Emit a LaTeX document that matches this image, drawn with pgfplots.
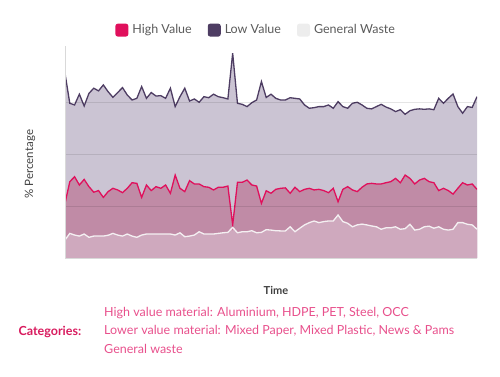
\documentclass[border=0pt]{standalone}
\usepackage{pgfplots}
\usepackage{pgfplotstable}
\pgfplotsset{compat=1.18}
\usepackage{fontspec}
\setmainfont{Lato}
\definecolor{hiline}{HTML}{E0105C}
\definecolor{loline}{HTML}{4E3D63}
\definecolor{genline}{HTML}{F4F0F2}
\definecolor{lofill}{HTML}{CBC4D3}
\definecolor{hifill}{HTML}{C08BA6}
\definecolor{genfill}{HTML}{CFA9BE}
\definecolor{legtext}{HTML}{5A5A5A}
\definecolor{cattext}{HTML}{E8508C}
\definecolor{cathead}{HTML}{D81B5E}
\pgfplotstableread{
x low high gen
0 89.3 26.4 8.7
1 74.8 36.9 11.9
2 74.0 39.3 11.1
3 79.2 35.3 10.6
4 73.5 38.0 11.6
5 79.6 34.5 10.0
6 82.1 31.8 10.6
7 80.8 32.6 10.6
8 83.7 29.3 10.6
9 80.4 32.1 11.0
10 77.7 33.7 11.9
11 80.0 32.9 11.1
12 82.4 31.6 10.6
13 78.8 33.7 11.6
14 76.4 36.4 10.6
15 77.2 36.1 10.0
16 82.9 29.3 11.1
17 77.2 35.3 11.6
18 80.0 32.6 11.6
19 78.3 34.5 11.6
20 78.5 33.7 11.6
21 77.2 35.3 11.6
22 82.1 31.3 11.6
23 73.2 40.1 11.1
24 78.0 33.7 12.2
25 82.1 32.1 10.3
26 75.9 37.4 10.6
27 76.9 35.8 11.1
28 75.3 35.8 12.7
29 78.0 34.5 11.6
30 77.5 34.2 11.6
31 79.2 32.9 11.6
32 78.0 34.2 11.9
33 77.5 34.2 12.2
34 76.9 34.8 12.4
35 99.0 16.0 14.8
36 74.8 36.6 12.2
37 74.3 36.6 12.7
38 73.2 37.7 12.7
39 75.1 35.3 13.2
40 76.4 34.8 12.2
41 85.3 26.4 12.4
42 77.6 32.5 13.7
43 79.2 31.3 13.5
44 77.2 33.2 13.2
45 76.4 33.7 13.1
46 76.4 33.9 13.1
47 77.5 31.3 15.1
48 77.2 34.2 12.7
49 76.9 32.1 14.4
50 74.0 33.2 16.0
51 72.4 33.7 17.1
52 72.7 32.9 17.9
53 73.2 33.2 17.1
54 73.2 32.6 17.6
55 74.0 31.6 17.9
56 72.4 33.7 17.9
57 75.6 27.2 20.8
58 73.2 33.2 17.6
59 72.4 34.5 16.8
60 74.8 32.9 15.1
61 75.3 32.1 16.0
62 74.0 34.2 16.4
63 72.4 35.8 16.0
64 72.1 36.1 15.5
65 73.2 35.8 15.1
66 74.3 35.8 13.9
67 73.0 36.4 14.6
68 72.1 36.9 14.6
69 70.8 38.5 15.1
70 71.7 36.4 13.9
71 69.5 40.1 14.2
72 71.2 38.5 16.3
73 71.9 35.8 13.5
74 72.1 37.7 13.9
75 71.9 38.5 15.1
76 72.1 36.9 15.4
77 71.7 36.4 14.4
78 77.2 32.6 15.1
79 74.8 33.7 13.9
80 77.2 32.6 13.5
81 79.3 30.9 13.9
82 73.2 33.7 17.1
83 70.0 36.4 17.1
84 73.2 35.3 16.3
85 72.8 35.8 16.0
86 78.0 33.2 13.9
}\datatable
\begin{document}
\begin{tikzpicture}[x=1pt,y=1pt]
\path[use as bounding box] (0,0) rectangle (500,376);
\begin{axis}[
  at={(65pt,118pt)}, anchor=south west,
  scale only axis, width=412pt, height=212pt,
  xmin=0, xmax=86, ymin=0, ymax=102.5,
  axis lines*=left,
  axis line style={draw=black!15, line width=0.8pt},
  xtick=\empty, ytick={25,50,75}, yticklabels={},
  major tick length=0pt,
  ymajorgrids, grid style={black, opacity=0.10, line width=0.8pt},
  axis on top,
  xlabel={\textbf{Time}},
  xlabel style={at={(axis description cs:0.512,-0.151)}, anchor=center, font=\fontsize{11}{13}\selectfont, text=black!75},
  ylabel={\% Percentage},
  ylabel style={at={(axis description cs:-0.085,0.443)}, anchor=center, rotate=0, font=\fontsize{11.5}{13}\selectfont, text=black!75},
  legend columns=3,
  legend style={at={(axis description cs:0.464,1.075)}, anchor=center, draw=none, fill=none,
    font=\fontsize{12.5}{14}\selectfont, text=legtext,
    /tikz/every even column/.append style={column sep=14pt}},
  legend image code/.code={\fill[#1, draw=none, rounded corners=2.5pt] (0pt,-6.5pt) rectangle (13pt,6.5pt);},
]
\addlegendimage{fill=hiline, draw=none}
\addlegendentry{\hspace{2pt}High Value}
\addlegendimage{fill=loline, draw=none}
\addlegendentry{\hspace{2pt}Low Value}
\addlegendimage{fill=black!7, draw=none}
\addlegendentry{\hspace{2pt}General Waste}
\addplot[draw=none, fill=lofill, forget plot] table[x=x, y=low] {\datatable} \closedcycle;
\addplot[draw=none, fill=hifill, forget plot] table[x=x, y=high] {\datatable} \closedcycle;
\addplot[draw=none, fill=genfill, forget plot] table[x=x, y=gen] {\datatable} \closedcycle;
\addplot[loline, line width=1.3pt, forget plot] table[x=x, y=low] {\datatable};
\addplot[hiline, line width=1.3pt, forget plot] table[x=x, y=high] {\datatable};
\addplot[genline, line width=1.3pt, forget plot] table[x=x, y=gen] {\datatable};
\end{axis}
\node[anchor=west, text=cathead, font=\fontsize{12.5}{14}\selectfont\bfseries] at (15,44) {Categories:};
\node[anchor=west, text=cattext, font=\fontsize{12.5}{14}\selectfont, inner sep=0pt] at (104,63) {High value material: Aluminium, HDPE, PET, Steel, OCC};
\node[anchor=west, text=cattext, font=\fontsize{12.5}{14}\selectfont, inner sep=0pt] at (104,45) {Lower value material: Mixed Paper, Mixed Plastic, News \& Pams};
\node[anchor=west, text=cattext, font=\fontsize{12.5}{14}\selectfont, inner sep=0pt] at (104,27) {General waste};
\end{tikzpicture}
\end{document}
